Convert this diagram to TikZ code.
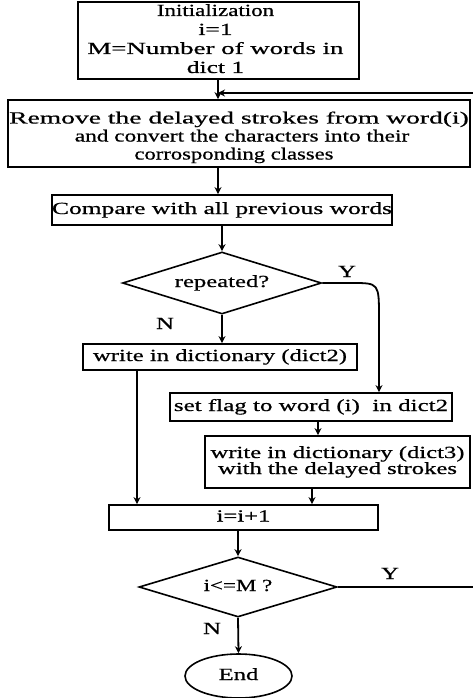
\documentclass[tikz,border=0pt]{standalone}
\usepackage{fontspec}
\setmainfont{Liberation Serif}[FakeBold=0.6]
\newfontfamily\heavy{Liberation Serif}[FakeBold=0.6]
\usetikzlibrary{shapes.geometric,arrows.meta}
\newcommand{\wtxt}[2][1.45]{\scalebox{#1}[1]{\begin{tabular}{@{}c@{}}#2\end{tabular}}}
\newcommand{\sx}[2]{\scalebox{#1}[1]{#2}}
\begin{document}
\begin{tikzpicture}[x=1pt,y=-1pt,
  every node/.style={font=\heavy\fontsize{17}{20}\selectfont},
  box/.style={draw,line width=1.8pt,inner sep=0pt,rectangle},
  dia/.style={draw,line width=1.6pt,diamond,inner sep=0pt,aspect=3.2},
  arr/.style={line width=1.8pt,-{Stealth[length=7pt,width=7pt]}},
  lbl/.style={inner sep=0pt}]
\useasboundingbox (0,0) rectangle (472,698);
\node[box,minimum width=281pt,minimum height=75pt] (init) at (218.5,40.5)
  {\begin{tabular}{@{}c@{}}\sx{1.35}{Initialization}\\[-1pt] \sx{1.5}{i=1}\\[-1pt] \sx{1.58}{M=Number of words in}\\[-1pt] \sx{1.5}{dict 1}\end{tabular}\hspace*{6pt}};
\node[box,minimum width=462pt,minimum height=67pt] (rem) at (239,133.5)
  {\raisebox{0pt}[\dimexpr\height+8pt][\depth]{\begin{tabular}{@{}c@{}}\sx{1.62}{Remove the delayed strokes from word(i)}\\[-2pt] \hspace*{6pt}\sx{1.37}{and convert the characters into their}\\[-2pt] \sx{1.33}{corrosponding classes}\hspace*{10pt}\end{tabular}}};
\node[box,minimum width=340pt,minimum height=30pt] (cmp) at (222,210)
  {\wtxt[1.5]{Compare with all previous words}};
\node[dia,minimum width=199pt,minimum height=62pt] (rep) at (222,283)
  {\wtxt{repeated?}};
\node[box,minimum width=274pt,minimum height=26pt] (wd2) at (220,357)
  {\wtxt{write in dictionary (dict2)}};
\node[box,minimum width=282pt,minimum height=28pt] (flag) at (311,407)
  {\wtxt[1.47]{set flag to word (i)\ \ in dict2}};
\node[box,minimum width=265pt,minimum height=52pt] (wd3) at (337.5,462)
  {\wtxt{write in dictionary (dict3)\\[-4pt] with the delayed strokes}};
\node[box,minimum width=269pt,minimum height=25pt] (inc) at (243.5,517.5)
  {\wtxt{i=i+1}};
\node[dia,minimum width=198pt,minimum height=60pt] (le) at (238,587)
  {\wtxt[1.35]{i<=M ?}};
\node[draw,ellipse,line width=1.6pt,minimum width=107pt,minimum height=44pt,inner sep=0pt] (fin) at (238.5,676)
  {\wtxt{End}};
\node[lbl] (y1) at (347,273) {\wtxt{Y}};
\node[lbl] (n1) at (165,325) {\wtxt{N}};
\node[lbl] (y2) at (390,575) {\wtxt{Y}};
\node[lbl] (n2) at (212,630) {\wtxt{N}};
\coordinate (ax) at (218,0);
\coordinate (yc) at (379,0);
\coordinate (nx) at (137,0);
\coordinate (fx) at (318,0);
\coordinate (dx) at (312,0);
\coordinate (lx) at (476,0);
\coordinate (ly) at (0,93);
\draw[arr] (init.south -| ax) -- (rem.north -| ax);
\draw[arr] (rem.south -| ax) -- (cmp.north -| ax);
\draw[arr] (cmp.south -| rep.north) -- (rep.north);
\draw[arr] (rep.south) -- (wd2.north -| rep.south);
\draw[arr] (rep.east) -- (352,283) .. controls (379,283) .. (379,318) -- (flag.north -| yc);
\draw[arr] (wd2.south -| nx) -- (inc.north -| nx);
\draw[arr] (flag.south -| fx) -- (wd3.north -| fx);
\draw[arr] (wd3.south -| dx) -- (inc.north -| dx);
\draw[arr] (inc.south -| le.north) -- (le.north);
\draw[arr] (le.south) -- (fin.north);
\draw[arr] (le.east) -- (le.east -| lx) -- (lx |- ly) -- (ax |- ly);
\end{tikzpicture}
\end{document}
